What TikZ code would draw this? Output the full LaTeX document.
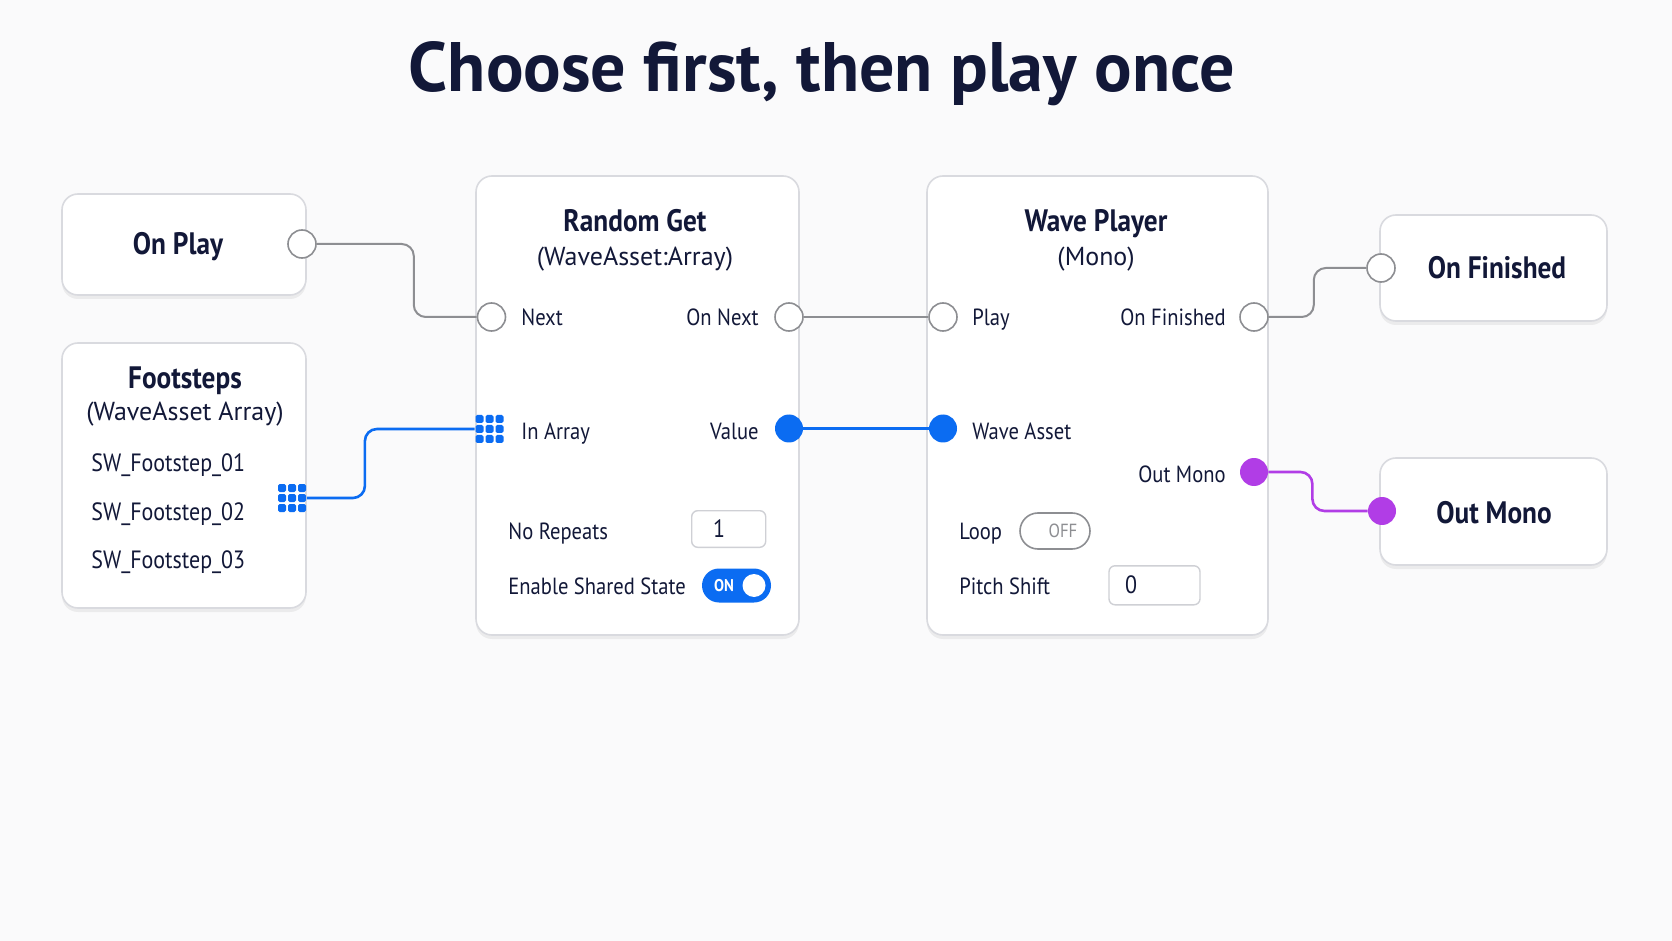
\documentclass[tikz,border=0pt]{standalone}
\usepackage{fontspec}
\setmainfont{PT Sans}[FakeStretch=0.88]
\newfontfamily\titlefont{PT Sans}
\usetikzlibrary{positioning, shadows}

\definecolor{ink}{HTML}{121838}
\definecolor{cardedge}{HTML}{D9DADF}
\definecolor{wiregray}{HTML}{8D8E92}
\definecolor{flowblue}{HTML}{0B6CF2}
\definecolor{flowpurple}{HTML}{B13DE6}
\definecolor{paper}{HTML}{FAFAFB}
\definecolor{fieldedge}{HTML}{CFD0D5}

\tikzset{
  card/.style={draw=cardedge, line width=0.8pt, fill=white, rounded corners=8pt,
    drop shadow={shadow xshift=0pt, shadow yshift=-2pt, opacity=0.12}},
  heading/.style={font=\bfseries\fontsize{15.5}{18}\selectfont, text=ink, inner sep=0pt, text height=10.8pt, text depth=0pt},
  subheading/.style={font=\titlefont\fontsize{13}{15}\selectfont, text=ink, inner sep=0pt, text height=9.1pt, text depth=0pt},
  pinlabel/.style={font=\fontsize{11.7}{14}\selectfont, text=ink, inner sep=0pt, text height=8.2pt, text depth=0pt},
  assetname/.style={pinlabel, font=\fontsize{12.5}{14}\selectfont, text height=8.8pt},
  execpin/.style={circle, draw=wiregray, line width=0.8pt, fill=white, minimum size=14pt, inner sep=0pt},
  datapin/.style={circle, fill=#1, minimum size=14pt, inner sep=0pt},
  arraypin/.style={minimum size=14.5pt, inner sep=0pt},
  wire/.style={line width=1pt, rounded corners=6pt, draw=wiregray},
  field/.style={draw=fieldedge, line width=0.7pt, fill=white, rounded corners=3pt, inner sep=0pt},
}
\newcommand\arraygrid[1]{%
  \foreach \i in {-1,0,1}{\foreach \j in {-1,0,1}{%
    \fill[flowblue, rounded corners=0.8pt] ([shift={(\i*10-4,\j*10-4)}]#1.center) rectangle ++(8,8);}}}

\begin{document}
\begin{tikzpicture}[x=0.5pt, y=-0.5pt]
\fill[paper] (0,0) rectangle (1672,941);
\useasboundingbox (0,0) rectangle (1672,941);

% title
\node[font=\titlefont\bfseries\fontsize{35}{40}\selectfont, text=ink, inner sep=0pt, text height=24.5pt, text depth=0pt] (title) at (822,67) {Choose first, then play once};

% cards
\node[card, minimum width=122pt, minimum height=50.5pt] (onplay) at (184,244.5) {};
\node[card, minimum width=122pt, minimum height=132.5pt] (footsteps) at (184,475.5) {};
\node[card, minimum width=161.5pt, minimum height=229.5pt] (randomget) at (637.5,405.5) {};
\node[card, minimum width=170.5pt, minimum height=229.5pt] (waveplayer) at (1097.5,405.5) {};
\node[card, minimum width=113.5pt, minimum height=53pt] (onfinished) at (1493.5,268) {};
\node[card, minimum width=113.5pt, minimum height=53.5pt] (outmono) at (1493.5,511.5) {};

% headings
\node[heading] (onplayText) at (178,244) {On Play};
\node[heading] (footstepsText) at (185,378) {Footsteps};
\node[subheading, below=6.4pt of footstepsText] (footstepsSub) {(WaveAsset Array)};
\node[heading] (randomgetText) at (635,221) {Random Get};
\node[subheading, below=7.2pt of randomgetText] (randomgetSub) {(WaveAsset:Array)};
\node[heading] (waveplayerText) at (1096,221) {Wave Player};
\node[subheading, below=7.2pt of waveplayerText] (waveplayerSub) {(Mono)};
\node[heading] (onfinishedText) at (1497,268) {On Finished};
\node[heading] (outmonoText) at (1494,512.5) {Out Mono};

\foreach \n/\y in {01/462.7, 02/511.7, 03/560}
  \node[assetname, anchor=west] (sw\n) at (91,\y) {SW\_Footstep\_\n};

% pins
\node[execpin] (onplayOut) at (302,244) {};
\node[arraypin] (footstepsOut) at (292,498) {};
\node[execpin] (rgNext) at (491.5,317) {};
\node[execpin] (rgOnNext) at (789,317) {};
\node[arraypin] (rgInArray) at (489.5,429) {};
\node[datapin=flowblue] (rgValue) at (789,428.5) {};
\node[execpin] (wpPlay) at (943,317) {};
\node[execpin] (wpOnFinished) at (1254,317) {};
\node[datapin=flowblue] (wpWaveAsset) at (943,428.5) {};
\node[datapin=flowpurple] (wpOutMono) at (1254,472) {};
\node[execpin] (onfinishedIn) at (1381,268) {};
\node[datapin=flowpurple] (outmonoIn) at (1382,511) {};
\arraygrid{footstepsOut}
\arraygrid{rgInArray}

% pin labels
\node[pinlabel, anchor=west] (rgNextText) at (521,317) {Next};
\node[pinlabel, anchor=east] (rgOnNextText) at (759,317) {On Next};
\node[pinlabel, anchor=west] (rgInArrayText) at (521,431.5) {In Array};
\node[pinlabel, anchor=east] (rgValueText) at (759,431.5) {Value};
\node[pinlabel, anchor=west] (wpPlayText) at (972,317) {Play};
\node[pinlabel, anchor=east] (wpOnFinishedText) at (1226,317) {On Finished};
\node[pinlabel, anchor=west] (wpWaveAssetText) at (972,431.5) {Wave Asset};
\node[pinlabel, anchor=east] (wpOutMonoText) at (1226,474) {Out Mono};

% settings
\node[pinlabel, anchor=west] (noRepeatsText) at (508,531.5) {No Repeats};
\node[field, minimum width=37pt, minimum height=18.3pt] (noRepeatsField) at (728.7,529) {};
\node[pinlabel, font=\fontsize{12.5}{14}\selectfont] (noRepeatsValue) at (719,529) {1};
\node[pinlabel, anchor=west] (sharedText) at (508,586.5) {Enable Shared State};
\node[fill=flowblue, rounded corners=8.5pt, minimum width=34.5pt, minimum height=17pt, inner sep=0pt] (sharedSwitch) at (736.5,585.5) {};
\node[font=\bfseries\fontsize{8.5}{10}\selectfont, text=white, inner sep=0pt] (sharedOn) at (724,586) {ON};
\node[circle, fill=white, minimum size=11.5pt, inner sep=0pt] (sharedKnob) at (754,585.5) {};
\node[pinlabel, anchor=west] (loopText) at (959,531.5) {Loop};
\node[draw=wiregray, line width=0.8pt, fill=white, rounded corners=9pt, minimum width=35pt, minimum height=18pt, inner sep=0pt] (loopSwitch) at (1055,531) {};
\node[font=\fontsize{9.5}{11}\selectfont, text=wiregray, inner sep=0pt] (loopOff) at (1063,531) {OFF};
\node[pinlabel, anchor=west] (pitchText) at (959,586.5) {Pitch Shift};
\node[field, minimum width=45.5pt, minimum height=19.5pt] (pitchField) at (1154.5,585.3) {};
\node[pinlabel, font=\fontsize{12.5}{14}\selectfont] (pitchValue) at (1131,585.5) {0};

% wires
\draw[wire] (onplayOut.east) -- ++(97,0) |- (rgNext.west);
\draw[wire, draw=flowblue, line width=1.3pt] (footstepsOut.east) -- ++(58,0) |- (rgInArray.west);
\draw[wire] (rgOnNext.east) -- (wpPlay.west);
\draw[wire, draw=flowblue, line width=1.3pt] (rgValue.east) -- (wpWaveAsset.west);
\draw[wire] (wpOnFinished.east) -- ++(45,0) |- (onfinishedIn.west);
\draw[wire, draw=flowpurple, line width=1.3pt] (wpOutMono.east) -- ++(44,0) |- (outmonoIn.west);
\end{tikzpicture}
\end{document}
